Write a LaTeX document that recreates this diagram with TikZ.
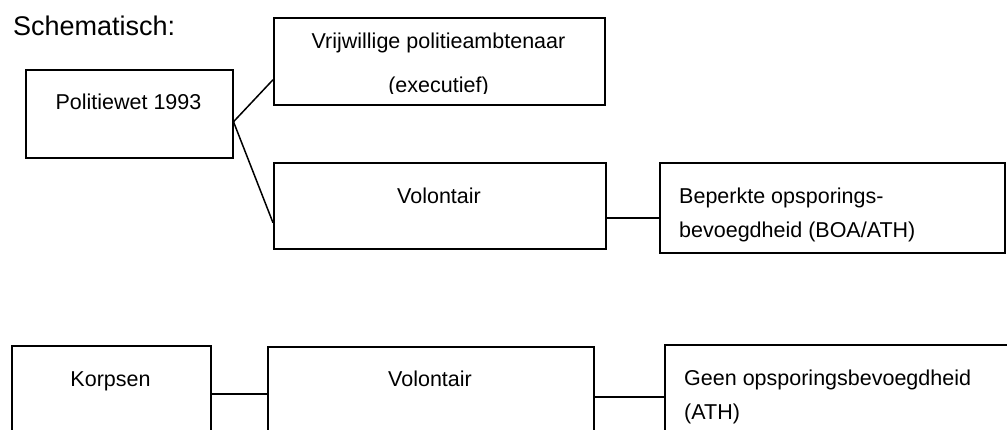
\documentclass[tikz,border=0pt]{standalone}
\usepackage{fontspec}
\setmainfont{Liberation Sans}
\usetikzlibrary{positioning, calc}

\tikzset{
  blok/.style={draw, line width=1.5pt, inner sep=0pt, anchor=north west},
  tekst/.style={inner sep=0pt, anchor=base, font=\fontsize{21.5}{26}\selectfont},
  tekstl/.style={tekst, anchor=base west},
  lijn/.style={line width=1.5pt},
}

\begin{document}
\begin{tikzpicture}[x=1pt, y=-1pt]
        \clip (0,0) rectangle (1007,429);

        % === KOP ===
        \node[inner sep=0pt, anchor=base west, font=\fontsize{27}{32}\selectfont]
            (kop) at (13,35) {Schematisch:};

        % === BOVENSTE RIJ ===
        \node[blok, minimum width=207pt, minimum height=88pt] (wet) at (25,69) {};
        \node[blok, minimum width=331pt, minimum height=87pt] (vrijw) at (273,17) {};
        \node[blok, minimum width=332pt, minimum height=86pt] (vol) at (273,162) {};
        \node[blok, minimum width=345pt, minimum height=90pt] (bep) at (659,162) {};

        \node[tekst] (wet-t) at (128.5,109) {Politiewet 1993};
        \node[tekst] (vrijw-t1) at (438.5,48) {Vrijwillige politieambtenaar};
        \begin{scope}
            % tweede regel valt onderaan weg
            \clip (273,17) rectangle (604,93);
            \node[tekst] (vrijw-t2) at (438.5,92) {(executief)};
        \end{scope}
        \node[tekst] (vol-t) at (439,203) {Volontair};
        \node[tekstl] (bep-t1) at (679,203) {Beperkte opsporings-};
        \node[tekstl] (bep-t2) at (679,237) {bevoegdheid (BOA/ATH)};

        \draw[lijn] ([yshift=-8pt]wet.east) -- ([yshift=-18.5pt]vrijw.west);
        \draw[lijn] ([yshift=-8pt]wet.east) -- ([yshift=-17pt]vol.west);
        \coordinate (v1) at ([yshift=-12pt]vol.east);
        \draw[lijn] (v1) -- (v1 -| bep.west);

        % === ONDERSTE RIJ (loopt door onder de rand) ===
        \node[blok, minimum width=199pt, minimum height=120pt] (korps) at (11,345) {};
        \node[blok, minimum width=326pt, minimum height=120pt] (vol2) at (267,346) {};
        \node[blok, minimum width=360pt, minimum height=120pt] (geen) at (664,344) {};

        \node[tekst] (korps-t) at (110.5,386) {Korpsen};
        \node[tekst] (vol2-t) at (430,386) {Volontair};
        \node[tekstl] (geen-t1) at (684,385) {Geen opsporingsbevoegdheid};
        \node[tekstl] (geen-t2) at (684,419) {(ATH)};

        \coordinate (k1) at ([yshift=12pt]korps.east);
        \draw[lijn] (k1) -- (k1 -| vol2.west);
        \coordinate (v2) at ([yshift=10pt]vol2.east);
        \draw[lijn] (v2) -- (v2 -| geen.west);

\end{tikzpicture}
\end{document}
